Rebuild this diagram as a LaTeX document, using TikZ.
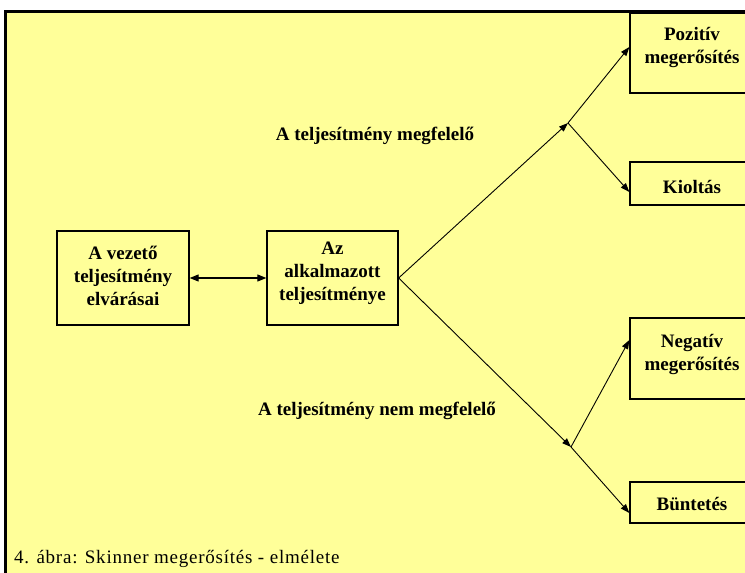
\documentclass[tikz,border=0pt]{standalone}
\usepackage{fontspec}
\setmainfont{Liberation Serif}
\newfontfamily\captionface[LetterSpace=4]{Liberation Serif}
\usetikzlibrary{arrows.meta,calc}
\definecolor{paper}{HTML}{FFFF99}
\tikzset{
  box/.style={draw=black, line width=1.3pt, minimum width=#1, inner sep=0pt},
  boxtext/.style={font=\bfseries\fontsize{19}{23}\selectfont, align=center, inner sep=0pt},
  heading/.style={font=\bfseries\fontsize{19}{23}\selectfont, inner sep=0pt},
  link/.style={line width=0.9pt, -{Triangle[length=9pt,width=6.5pt]}},
  twoway/.style={line width=1.1pt, {Triangle[length=9pt,width=7pt]}-{Triangle[length=9pt,width=7pt]}}
}
\begin{document}
\begin{tikzpicture}[x=1pt,y=-1pt]
  \useasboundingbox (0,0) rectangle (745,573);
  \clip (0,0) rectangle (745,573);
  \fill[white] (0,0) rectangle (745,573);
  % framed panel
  \filldraw[fill=paper, draw=black, line width=3pt] (5.5,11.5) rectangle (770,600);

  % boxes
  \node[box=132pt, minimum height=94pt] (lead) at (123,278) {};
  \node[box=131pt, minimum height=94pt] (perf) at (332.5,278) {};
  \node[box=124pt, minimum height=80pt] (pos) at (692,53) {};
  \node[box=124pt, minimum height=43pt] (ext) at (692,183.5) {};
  \node[box=124pt, minimum height=81pt] (neg) at (692,358.5) {};
  \node[box=124pt, minimum height=41pt] (pun) at (692,502.5) {};

  % box texts (anchored at the baseline of the last line)
  \node[boxtext, anchor=base] (leadtxt) at (123,305) {A vezető\\teljesítmény\\elvárásai};
  \node[boxtext, anchor=base] (perftxt) at (332.5,300) {Az\\alkalmazott\\teljesítménye};
  \node[boxtext, anchor=base] (postxt) at (692,63) {Pozitív\\megerősítés};
  \node[boxtext, anchor=base] (exttxt) at (692,193) {Kioltás};
  \node[boxtext, anchor=base] (negtxt) at (692,370) {Negatív\\megerősítés};
  \node[boxtext, anchor=base] (puntxt) at (692,510) {Büntetés};

  % branch labels
  \node[heading, anchor=base] (okl) at (375,140) {A teljesítmény megfelelő};
  \node[heading, anchor=base] (nokl) at (377,415) {A teljesítmény nem megfelelő};

  % branch points
  \coordinate (up) at (568,123);
  \coordinate (down) at (571,447);

  % connectors
  \draw[twoway] (lead.east) -- (perf.west);
  \draw[link] (perf.east) -- (up);
  \draw[link] (up) -- ([yshift=6pt]pos.west);
  \draw[link] (up) -- ([yshift=-8.5pt]ext.west);
  \draw[link] (perf.east) -- (down);
  \draw[link] (down) -- ([yshift=18.5pt]neg.west);
  \draw[link] (down) -- ([yshift=-10.5pt]pun.west);

  % caption
  \node[anchor=base west, inner sep=0pt, font=\captionface\fontsize{19}{22}\selectfont] (cap) at (14,563) {4. ábra: Skinner megerősítés - elmélete};
\end{tikzpicture}
\end{document}
